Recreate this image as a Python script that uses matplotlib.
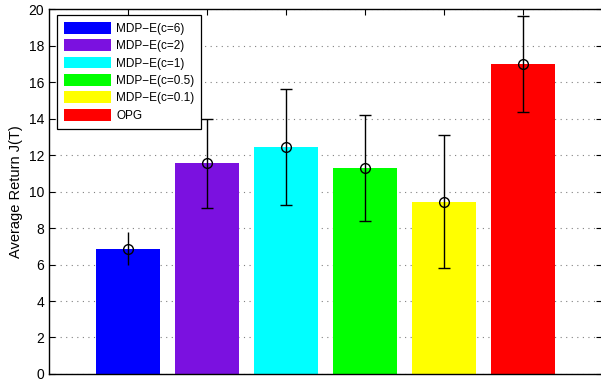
import matplotlib.pyplot as plt

plt.rcParams['font.family'] = ['Liberation Sans', 'DejaVu Sans']

# 数据
labels = ["MDP\u2212E(c=6)", "MDP\u2212E(c=2)", "MDP\u2212E(c=1)",
          "MDP\u2212E(c=0.5)", "MDP\u2212E(c=0.1)", "OPG"]
means = [6.87, 11.55, 12.45, 11.3, 9.45, 16.98]
errs = [0.9, 2.45, 3.2, 2.9, 3.65, 2.62]
colors = ["#0000ff", "#7b11e0", "#00ffff", "#00ff00", "#ffff00", "#ff0000"]

fig = plt.figure(figsize=(6.01, 3.82), dpi=100)
ax = fig.add_axes([0.0815, 0.021, 0.92, 0.955])

xs = list(range(1, len(means) + 1))
bars = ax.bar(xs, means, width=0.8, color=colors, label=labels, zorder=2)

# 误差线 (第一组没有横帽)
caps = [0, 4, 4, 4, 4, 4]
for x, m, e, c in zip(xs, means, errs, caps):
    ax.errorbar(x, m, yerr=e, fmt='o', mfc='none', mec='black', ms=7,
                mew=1.0, ecolor='black', elinewidth=1.0, capsize=c,
                capthick=1.0, zorder=3)

ax.set_xlim(0, 7)
ax.set_ylim(0, 20)
ax.set_yticks(range(0, 21, 2))
ax.set_xticks(xs)
ax.set_xticklabels([])
ax.tick_params(axis='x', direction='in', top=True, bottom=False, length=4)
ax.tick_params(axis='y', direction='in', right=True, labelsize=10, length=4)
ax.grid(True, axis='y', linestyle=(0, (1, 4)), color='gray', linewidth=0.8, zorder=0)
ax.set_ylabel("Average Return J(T)", fontsize=10.5, labelpad=4)

for s in ax.spines.values():
    s.set_linewidth(1.0)

leg = ax.legend(loc='upper left', bbox_to_anchor=(0.0145, 0.984), fontsize=8.5,
                fancybox=False, edgecolor='black', framealpha=1,
                handlelength=4.0, handleheight=1.15, labelspacing=0.38,
                handletextpad=0.4, borderpad=0.6, borderaxespad=0)
leg.get_frame().set_linewidth(0.9)

plt.savefig("out.png", dpi=100)
